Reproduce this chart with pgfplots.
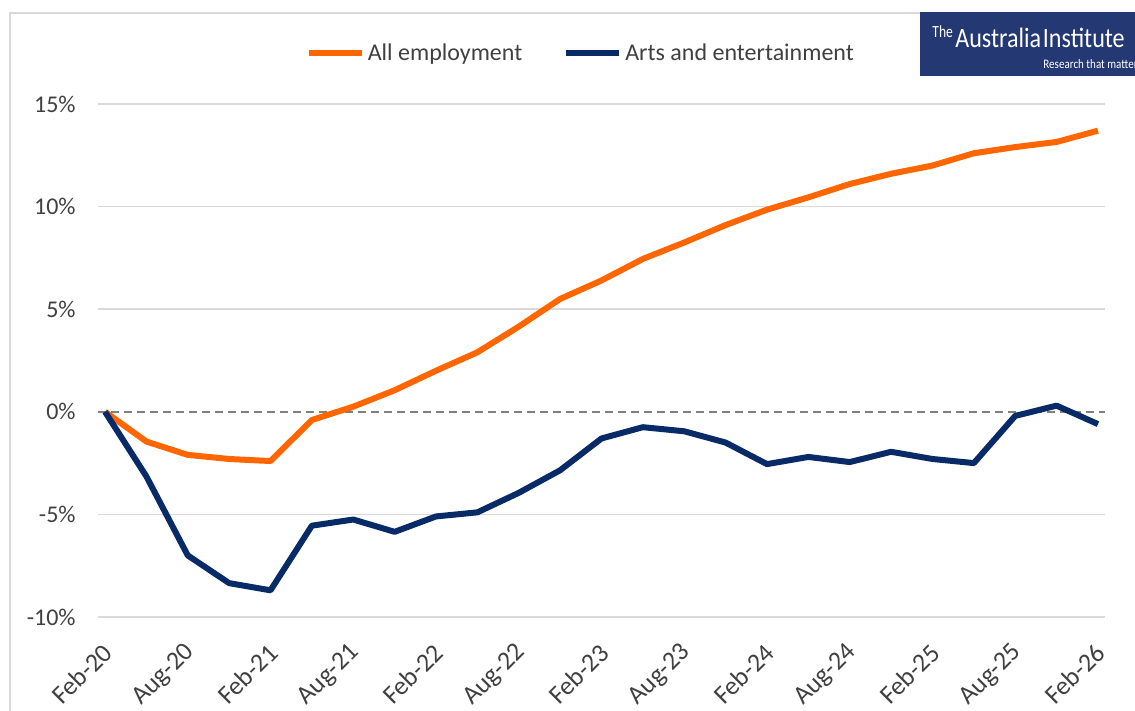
\documentclass[border=0pt]{standalone}
\usepackage{pgfplots}
\pgfplotsset{compat=1.18}
\usepackage{pgfplotstable}
\usepackage{fontspec}
\setmainfont{Carlito}

\definecolor{empl}{RGB}{255,102,0}
\definecolor{arts}{RGB}{8,42,102}
\definecolor{txt}{RGB}{64,64,64}
\definecolor{gridc}{RGB}{217,217,217}
\definecolor{logo}{RGB}{36,56,116}

% quarterly, Feb-20 = 0 ... Feb-26 = 24
\pgfplotstableread{
q   all    arts
0   0.00   0.00
1  -1.45  -3.15
2  -2.10  -7.00
3  -2.30  -8.35
4  -2.40  -8.70
5  -0.40  -5.55
6   0.25  -5.25
7   1.05  -5.85
8   2.00  -5.10
9   2.90  -4.90
10  4.15  -3.95
11  5.50  -2.85
12  6.40  -1.30
13  7.45  -0.75
14  8.25  -0.95
15  9.10  -1.50
16  9.85  -2.55
17 10.45  -2.20
18 11.10  -2.45
19 11.60  -1.95
20 12.00  -2.30
21 12.60  -2.50
22 12.90  -0.20
23 13.15   0.30
24 13.70  -0.60
}\emp

\begin{document}
\begin{tikzpicture}
\useasboundingbox (0,0) rectangle (567.5pt,355.5pt);
\begin{scope}
  \clip (0,0) rectangle (567.5pt,355.5pt);
  \draw[gridc, line width=1pt] (5pt,0) -- (5pt,349pt) -- (567.5pt,349pt);
  \fill[logo] (460pt,317.5pt) rectangle (570pt,349.5pt);
  \node[anchor=base west, white, inner sep=0pt] at (466pt,336.5pt)
    {\scalebox{0.8}[1]{\fontsize{8.5}{9}\selectfont The}};
  \node[anchor=base west, white, inner sep=0pt] at (477.5pt,331.5pt)
    {\scalebox{0.86}[1]{\fontsize{14}{16}\selectfont Australia\hspace{1pt}Institute}};
  \node[anchor=base west, white, inner sep=0pt] at (521.5pt,321pt)
    {\scalebox{0.85}[1]{\fontsize{6.5}{7}\selectfont Research that matters}};
\end{scope}

\begin{axis}[
    at={(49pt,47pt)}, anchor=south west,
    scale only axis,
    width=503.5pt, height=256.5pt,
    xmin=-0.17, xmax=24.17,
    ymin=-10, ymax=15,
    axis line style={draw=none},
    major tick length=0pt,
    ymajorgrids=true,
    grid style={gridc, line width=0.75pt},
    ytick={-10,-5,0,5,10,15},
    yticklabels={-10\%,-5\%,0\%,5\%,10\%,15\%},
    xtick={0,2,...,24},
    xticklabels={Feb-20,Aug-20,Feb-21,Aug-21,Feb-22,Aug-22,Feb-23,Aug-23,Feb-24,Aug-24,Feb-25,Aug-25,Feb-26},
    every tick label/.append style={font=\fontsize{12}{14}\selectfont, text=txt},
    yticklabel style={anchor=east, inner sep=0pt, xshift=-11pt},
    % shifts are in the rotated frame
    xticklabel style={font=\fontsize{13}{15}\selectfont, rotate=45, anchor=east, inner sep=0pt, yshift=-12pt, xshift=-10pt},
    legend columns=2,
    legend style={at={(0.48,1.099)}, anchor=center, draw=none, fill=none,
        font=\fontsize{12}{14}\selectfont, text=txt,
        nodes={inner sep=1.5pt},
        /tikz/every even column/.append style={column sep=19pt}},
    legend image code/.code={\draw[#1] (0pt,0pt) -- (26.5pt,0pt);},
]
\addplot[white, line width=1pt, forget plot] coordinates {(-0.17,0) (24.17,0)};
\addplot[black!50, line width=0.8pt, dash pattern=on 4pt off 2.5pt, forget plot] coordinates {(-0.17,0) (24.17,0)};
\addplot[empl, line width=3pt, line join=round] table[x=q, y=all] {\emp};
\addlegendentry{All employment}
\addplot[arts, line width=3pt, line join=round] table[x=q, y=arts] {\emp};
\addlegendentry{Arts and entertainment}
\end{axis}
\end{tikzpicture}
\end{document}
